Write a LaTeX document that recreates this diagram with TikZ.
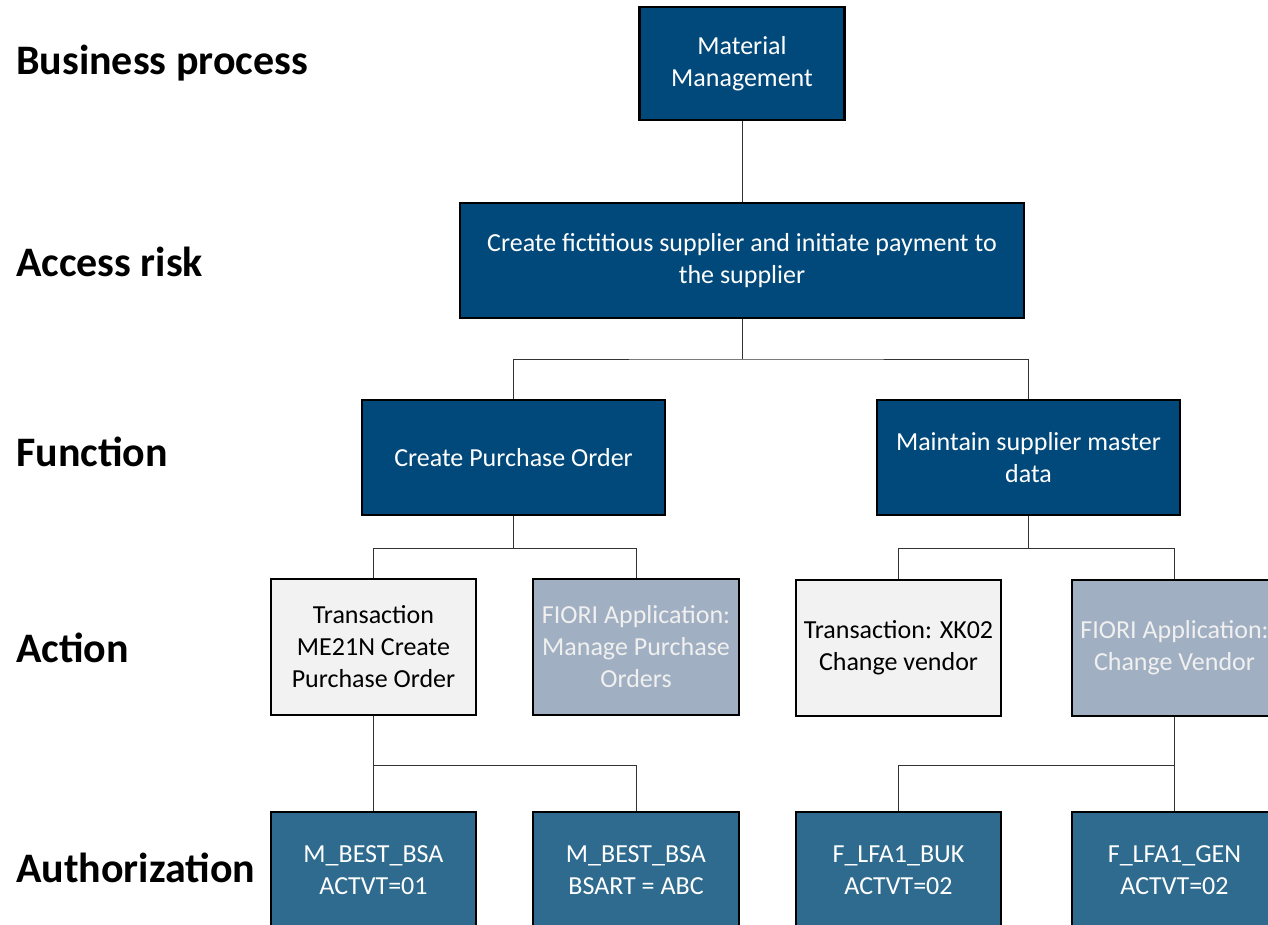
\documentclass[tikz,border=0pt]{standalone}
\usepackage{fontspec}
\setmainfont{Carlito}
\definecolor{dblue}{HTML}{00497A}
\definecolor{ablue}{HTML}{2F6B8F}
\definecolor{gblue}{HTML}{A1AFC2}
\definecolor{lgrey}{HTML}{F2F2F2}
\definecolor{lnk}{HTML}{333333}
\tikzset{
  box/.style={draw=black, line width=2.5pt, align=center, inner sep=0pt,
    font=\fontsize{26}{32}\selectfont},
  darkbox/.style={box, fill=dblue, text=white},
  authbox/.style={box, fill=ablue, text=white},
  fiori/.style={box, fill=gblue, text=white!94!black},
  trans/.style={box, fill=lgrey, text=black},
  lvl/.style={anchor=west, font=\fontsize{42}{48}\selectfont\bfseries, inner sep=0pt},
  link/.style={draw=lnk, line width=1pt}
}
\begin{document}
\begin{tikzpicture}[x=1pt,y=-1pt]
\useasboundingbox (0,0) rectangle (1268,924);
\clip (0,0) rectangle (1268,924);
% level labels
\node[lvl] (l1) at (16,63) {Business process};
\node[lvl] (l2) at (16,262) {Access risk};
\node[lvl] (l3) at (16,452) {Function};
\node[lvl] (l4) at (16,648) {Action};
\node[lvl] (l5) at (16,868) {Authorization};
% boxes
\node[darkbox, minimum width=205, minimum height=113] (mm) at (742,63.5) {Material\\Management};
\node[darkbox, minimum width=564, minimum height=115] (ar) at (742,260.5) {Create fictitious supplier and initiate payment to\\the supplier};
\node[darkbox, minimum width=303, minimum height=115] (f1) at (513.5,457.5) {Create Purchase Order};
\node[darkbox, minimum width=303, minimum height=115] (f2) at (1028.5,457.5) {Maintain supplier master\\data};
\node[trans, minimum width=205, minimum height=136] (a1) at (373.5,647) {Transaction\\ME21N Create\\Purchase Order};
\node[fiori, minimum width=206, minimum height=136] (a2) at (636,647) {FIORI Application:\\Manage Purchase\\Orders};
\node[trans, minimum width=205, minimum height=136] (a3) at (898.5,648) {Transaction: XK02\\Change vendor};
\node[fiori, minimum width=205, minimum height=136] (a4) at (1174.5,648) {FIORI Application:\\Change Vendor};
\node[authbox, minimum width=205, minimum height=116] (z1) at (373.5,870) {M\_BEST\_BSA\\ACTVT=01};
\node[authbox, minimum width=206, minimum height=116] (z2) at (636,870) {M\_BEST\_BSA\\BSART = ABC};
\node[authbox, minimum width=205, minimum height=116] (z3) at (898.5,870) {F\_LFA1\_BUK\\ACTVT=02};
\node[authbox, minimum width=205, minimum height=116] (z4) at (1174.5,870) {F\_LFA1\_GEN\\ACTVT=02};
% connectors
\coordinate (j1) at (742,359);
\coordinate (j2) at (513.5,548);
\coordinate (j3) at (1028.5,548);
\coordinate (j4) at (373.5,765);
\coordinate (j5) at (1174.5,765);
\draw[link] (mm.south) -- (ar.north);
\draw[link] (ar.south) -- (j1);
\draw[link] (f1.north) |- (j1) -| (f2.north);
\draw[link] (f1.south) -- (j2);
\draw[link] (a1.north) |- (j2) -| (a2.north);
\draw[link] (f2.south) -- (j3);
\draw[link] (a3.north) |- (j3) -| (a4.north);
\draw[link] (a1.south) -- (j4);
\draw[link] (z1.north) |- (j4) -| (z2.north);
\draw[link] (a4.south) -- (j5);
\draw[link] (z3.north) |- (j5) -| (z4.north);
\end{tikzpicture}
\end{document}
